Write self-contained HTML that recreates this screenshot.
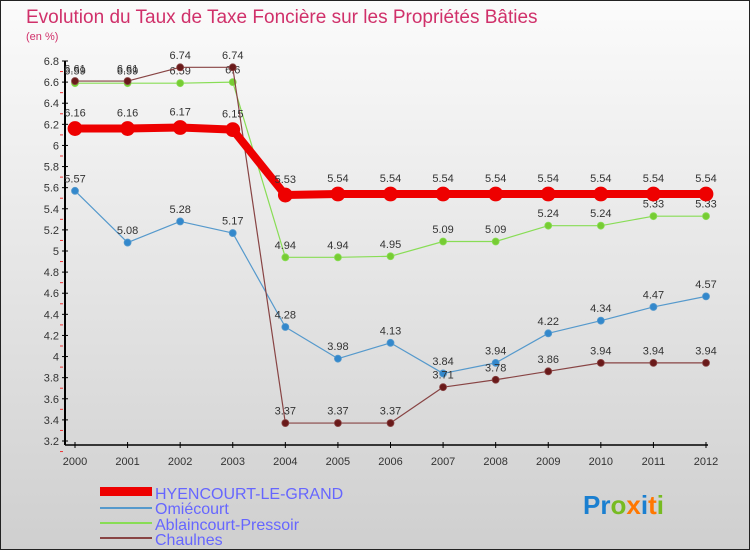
<!DOCTYPE html>
<html><head><meta charset="utf-8"><style>
body{margin:0;width:750px;height:550px;overflow:hidden;font-family:"Liberation Sans",sans-serif}
</style></head><body>
<svg id="c" width="750" height="550" xmlns="http://www.w3.org/2000/svg">
<defs><linearGradient id="bg" x1="0" y1="0" x2="0" y2="1"><stop offset="0" stop-color="#fbfbfb"/><stop offset="1" stop-color="#cfcfcf"/></linearGradient></defs>
<rect x="0.5" y="0.5" width="749" height="549" fill="url(#bg)" stroke="#222"/>
<text x="26" y="23" font-size="19" fill="#d0306a">Evolution du Taux de Taxe Foncière sur les Propriétés Bâties</text>
<text x="26" y="40" font-size="11" fill="#d0306a">(en %)</text>
<g id="axes"></g><g id="series"></g>
<g>
<rect x="100" y="487" width="52" height="9" fill="#e00"/>
<text x="155" y="499" font-size="16" fill="#6666ff">HYENCOURT-LE-GRAND</text>
<line x1="100" y1="508" x2="152" y2="508" stroke="#5599cc" stroke-width="2"/>
<text x="155" y="514" font-size="16" fill="#6666ff">Omiécourt</text>
<line x1="100" y1="523" x2="152" y2="523" stroke="#88dd55" stroke-width="2"/>
<text x="155" y="530" font-size="16" fill="#6666ff">Ablaincourt-Pressoir</text>
<line x1="100" y1="538" x2="152" y2="538" stroke="#884444" stroke-width="2"/>
<text x="155" y="545" font-size="16" fill="#6666ff">Chaulnes</text>
</g>
<text x="583" y="514" font-size="26" font-weight="bold"><tspan fill="#1a7fd0">Pr</tspan><tspan fill="#77bb22">o</tspan><tspan fill="#ff7700">x</tspan><tspan fill="#1a7fd0">i</tspan><tspan fill="#ff7700">t</tspan><tspan fill="#77bb22">i</tspan></text>
</svg>
<script>
const years=[2000,2001,2002,2003,2004,2005,2006,2007,2008,2009,2010,2011,2012];
const yTicks=[3.2,3.4,3.6,3.8,4,4.2,4.4,4.6,4.8,5,5.2,5.4,5.6,5.8,6,6.2,6.4,6.6,6.8];
const hyencourt=[6.16,6.16,6.17,6.15,5.53,5.54,5.54,5.54,5.54,5.54,5.54,5.54,5.54];
const omiecourt=[5.57,5.08,5.28,5.17,4.28,3.98,4.13,3.84,3.94,4.22,4.34,4.47,4.57];
const ablaincourt=[6.59,6.59,6.59,6.6,4.94,4.94,4.95,5.09,5.09,5.24,5.24,5.33,5.33];
const chaulnes=[6.61,6.61,6.74,6.74,3.37,3.37,3.37,3.71,3.78,3.86,3.94,3.94,3.94];
const NS="http://www.w3.org/2000/svg";
const X=i=>75+i*(706-75)/(years.length-1);
const Y=v=>61+(6.8-v)*(441-61)/3.6;
function mk(p,t,a){const e=document.createElementNS(NS,t);for(const k in a)e.setAttribute(k,a[k]);p.appendChild(e);return e;}
const ax=document.getElementById('axes');
let l=mk(ax,'line',{x1:65,y1:Y(6.8),x2:65,y2:Y(3.2)+4,stroke:'#000','stroke-width':2});


l=mk(ax,'line',{x1:65,y1:Y(3.2)+4,x2:708,y2:Y(3.2)+4,stroke:'#000','stroke-width':1.5});


yTicks.forEach(v=>{
 mk(ax,'line',{x1:62,y1:Y(v),x2:68,y2:Y(v),stroke:'#000'});
 mk(ax,'line',{x1:60,y1:Y(v-0.1),x2:63,y2:Y(v-0.1),stroke:'#e33'});
 const t=mk(ax,'text',{x:59,y:Y(v)+4,'text-anchor':'end','font-size':11,fill:'#333'});
 t.textContent=String(v);
 
 
});
years.forEach((yr,i)=>{
 mk(ax,'line',{x1:X(i),y1:Y(3.2)+1,x2:X(i),y2:Y(3.2)+7,stroke:'#000'});
 const t=mk(ax,'text',{x:X(i),y:Y(3.2)+24,'text-anchor':'middle','font-size':11,fill:'#333'});
 t.textContent=yr;
 
 
});
const sg=document.getElementById('series');
function draw(vals,color,dot,w,r,name){
 const g=mk(sg,'g',{});
 
 
 mk(g,'polyline',{points:vals.map((v,i)=>X(i)+','+Y(v)).join(' '),fill:'none',stroke:color,'stroke-width':w,'stroke-linejoin':'round'});
 vals.forEach((v,i)=>{
  const c=mk(g,'circle',{cx:X(i),cy:Y(v),r:r,fill:dot,stroke:color,'stroke-width':0.8});
  
  
  const t=mk(g,'text',{x:X(i),y:Y(v)-(r+5),'text-anchor':'middle','font-size':11,fill:'#333'});
  t.textContent=v.toFixed(2).replace(/0$/,'').replace(/\.$/,'');
  
  
 });
}
draw(ablaincourt,'#88dd55','#77cc33',1.2,3.5,'ablaincourt');
draw(omiecourt,'#5599cc','#3388cc',1.2,3.5,'omiecourt');
draw(chaulnes,'#884444','#6a1a1a',1.2,3.5,'chaulnes');
draw(hyencourt,'#ee0000','#ee0000',8,7,'hyencourt');
</script>
</body></html>
